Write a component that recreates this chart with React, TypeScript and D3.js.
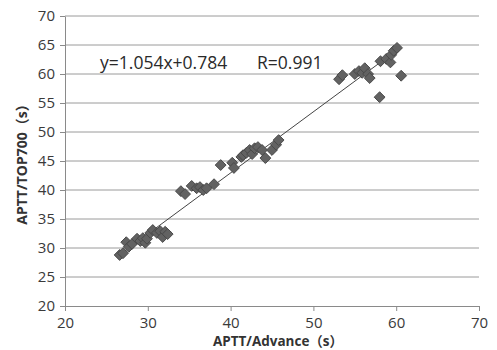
import React, { useEffect, useRef } from 'react';
import * as d3 from 'd3';

// APTT/Advance (s) vs APTT/TOP700 (s)
const advance = [
  26.6, 27.0, 27.4, 27.7, 28.1, 28.7, 29.1, 29.4, 29.7, 29.9, 30.3, 30.6, 31.1, 31.5, 31.8, 32.1, 32.4,
  34.0, 34.5, 35.3, 35.9, 36.3, 36.7, 37.1, 38.0,
  38.8, 40.2, 40.4, 41.3, 41.5, 41.9, 42.3, 42.6, 42.9, 43.3, 43.8, 44.2, 45.0, 45.5, 45.8,
  53.1, 53.5, 55.0, 55.5, 55.9, 56.2, 56.6, 56.8, 58.0, 58.1, 58.8, 59.3, 59.4, 59.7, 60.1, 60.6,
];
const top700 = [
  28.8, 29.1, 31.0, 30.2, 30.7, 31.6, 31.2, 31.7, 30.9, 31.6, 32.6, 33.1, 32.6, 32.9, 31.9, 32.8, 32.4,
  39.8, 39.3, 40.7, 40.3, 40.5, 40.0, 40.3, 41.0,
  44.3, 44.7, 43.8, 45.7, 46.0, 46.4, 46.9, 46.2, 47.2, 47.4, 46.9, 45.5, 46.9, 47.8, 48.6,
  59.1, 59.8, 60.0, 60.5, 60.2, 61.0, 60.0, 59.3, 56.0, 62.2, 62.6, 62.0, 63.3, 64.0, 64.5, 59.7,
];
const xTicks = [20, 30, 40, 50, 60, 70];
const yTicks = [20, 25, 30, 35, 40, 45, 50, 55, 60, 65, 70];
const slope = 1.054;
const intercept = 0.784;
const equationLabel = 'y=1.054x+0.784';
const rLabel = 'R=0.991';
const xTitle = 'APTT/Advance（s）';
const yTitle = 'APTT/TOP700（s）';

const App = () => {
  const svgRef = useRef<SVGSVGElement>(null);

  useEffect(() => {
    const W = 497;
    const H = 350;
    const margin = { top: 16, right: 18, bottom: 44, left: 65 };
    const font = '"Open Sans", "Noto Sans CJK SC", sans-serif';

    const svg = d3.select(svgRef.current);
    svg.selectAll('*').remove();
    svg.attr('width', W).attr('height', H).style('background', '#fff');

    const x = d3.scaleLinear().domain([20, 70]).range([margin.left, W - margin.right]);
    const y = d3.scaleLinear().domain([20, 70]).range([H - margin.bottom, margin.top]);

    // gridlines
    svg.append('g')
      .selectAll('line')
      .data(yTicks.slice(1))
      .enter()
      .append('line')
      .attr('x1', x(20))
      .attr('x2', x(70))
      .attr('y1', d => y(d))
      .attr('y2', d => y(d))
      .attr('stroke', '#9a9a9a')
      .attr('stroke-width', 1);

    // axes
    const xAxis = svg.append('g')
      .attr('transform', `translate(0,${y(20)})`)
      .call(d3.axisBottom(x).tickValues(xTicks).tickSize(5).tickPadding(6).tickSizeOuter(0));
    const yAxis = svg.append('g')
      .attr('transform', `translate(${x(20)},0)`)
      .call(d3.axisLeft(y).tickValues(yTicks).tickSize(5).tickPadding(5).tickSizeOuter(0));

    [xAxis, yAxis].forEach(g => {
      g.select('.domain').attr('stroke', '#8a8a8a');
      g.selectAll('.tick line').attr('stroke', '#8a8a8a');
      g.selectAll('.tick text')
        .attr('fill', '#3a3a3a')
        .style('font-family', font)
        .style('font-size', '15px');
    });

    // regression line
    const xMin = d3.min(advance) as number;
    const xMax = d3.max(advance) as number;
    svg.append('line')
      .attr('x1', x(xMin))
      .attr('y1', y(slope * xMin + intercept))
      .attr('x2', x(xMax))
      .attr('y2', y(slope * xMax + intercept))
      .attr('stroke', '#444')
      .attr('stroke-width', 1);

    // points
    const diamond = d3.symbol().type(d3.symbolDiamond2).size(75);
    svg.append('g')
      .selectAll('path')
      .data(advance.map((a, i) => [a, top700[i]]))
      .enter()
      .append('path')
      .attr('d', diamond)
      .attr('transform', d => `translate(${x(d[0])},${y(d[1])})`)
      .attr('fill', '#626262')
      .attr('stroke', '#4a4a4a')
      .attr('stroke-width', 1);

    // labels
    svg.append('text')
      .attr('x', 100)
      .attr('y', 69)
      .attr('fill', '#2a2a2a')
      .style('font-family', font)
      .style('font-size', '17.5px')
      .text(equationLabel);
    svg.append('text')
      .attr('x', 257)
      .attr('y', 69)
      .attr('fill', '#2a2a2a')
      .style('font-family', font)
      .style('font-size', '17.5px')
      .text(rLabel);

    svg.append('text')
      .attr('x', 278)
      .attr('y', 346)
      .attr('text-anchor', 'middle')
      .attr('fill', '#333')
      .style('font-family', font)
      .style('font-size', '13.5px')
      .style('font-weight', 'bold')
      .text(xTitle);
    svg.append('text')
      .attr('transform', `translate(27,${(y(20) + y(70)) / 2}) rotate(-90)`)
      .attr('text-anchor', 'middle')
      .attr('fill', '#333')
      .style('font-family', font)
      .style('font-size', '14px')
      .style('font-weight', 'bold')
      .text(yTitle);
  }, []);

  return (
    <div style={{ position: 'absolute', left: 0, top: 0 }}>
      <svg ref={svgRef}></svg>
    </div>
  );
};

export default App;
